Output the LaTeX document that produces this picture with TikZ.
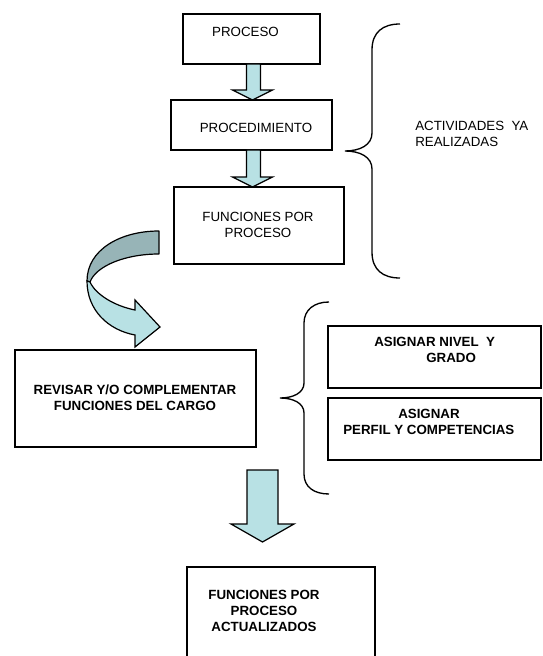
\documentclass[tikz,border=0pt]{standalone}
\usepackage{fontspec}
\setmainfont{Liberation Sans}
\usetikzlibrary{positioning,calc}

\definecolor{celeste}{RGB}{184,225,228}
\definecolor{celesteosc}{RGB}{151,180,183}

\begin{document}
\begin{tikzpicture}[x=0.75pt,y=-0.75pt,
  caja/.style={draw,line width=1.1pt,inner sep=0pt},
  texto/.style={font=\fontsize{10}{12}\selectfont,align=center,inner sep=0pt},
  negrita/.style={texto,font=\fontsize{10}{12}\selectfont\bfseries},
  bloque/.style={draw,line width=0.9pt,fill=celeste,line join=miter},
  llave/.style={line width=1pt}]
\useasboundingbox (0,0) rectangle (542,656);

% cajas de arriba
\node[caja,minimum width=102.75pt,minimum height=37.5pt] at (251.5,39) (proceso) {};
\node[texto] at (245.5,32) (procesoT) {PROCESO};
\node[caja,minimum width=120.75pt,minimum height=37.5pt] at (251.5,125) (procedimiento) {};
\node[texto] at (256,128) (procedimientoT) {PROCEDIMIENTO};
\node[caja,minimum width=127.5pt,minimum height=57.75pt] at (259,225.5) (funciones) {};
\node[texto] at (258,225) (funcionesT) {FUNCIONES POR\\PROCESO};
\node[texto,align=left,anchor=west] at (415,134) (actividades) {ACTIVIDADES\ \ YA\\REALIZADAS};

% flechas hacia abajo
\draw[bloque] (246.5,64) -- (260.5,64) -- (260.5,90) -- (272.5,90) -- (252.5,100) -- (232.5,90) -- (246.5,90) -- cycle;
\draw[bloque] (246.5,150) -- (260.5,150) -- (260.5,177) -- (272.5,177) -- (252.5,187) -- (232.5,177) -- (246.5,177) -- cycle;

% llave grande
\draw[llave] (400,24) .. controls (383,24) and (372,32) .. (372,50) -- (372,133)
  .. controls (372,145) and (360,151) .. (345,151)
  .. controls (360,151) and (372,157) .. (372,169) -- (372,252)
  .. controls (372,270) and (383,278) .. (400,278);

% flecha curva
\draw[line width=0.9pt,fill=celesteosc,line join=round] (159,231) .. controls (120,231) and (87,250) .. (87,281)
  -- (90,282) .. controls (96,266) and (125,254) .. (159,254) -- cycle;
\draw[bloque] (87,281) .. controls (87,310) and (108,330) .. (135,335) -- (135,347) -- (160,327)
  -- (135,300) -- (135,310) .. controls (115,306) and (96,295) .. (90,282) -- cycle;

% parte de abajo
\node[caja,minimum width=180.75pt,minimum height=72.75pt] at (135.5,398.5) (revisar) {};
\node[negrita] at (135,398) (revisarT) {REVISAR Y/O COMPLEMENTAR\\FUNCIONES DEL CARGO};
\node[caja,minimum width=159.75pt,minimum height=46.5pt] at (434.5,357) (nivel) {};
\node[negrita,align=left,anchor=west] at (374,350) (nivelT) {ASIGNAR NIVEL\ \ Y\\\hspace*{39pt}GRADO};
\node[caja,minimum width=159.75pt,minimum height=46.5pt] at (434.5,429) (perfil) {};
\node[negrita,align=left,anchor=west] at (343,421.5) (perfilT) {\hspace*{41.25pt}ASIGNAR\\PERFIL Y COMPETENCIAS};

% llave chica
\draw[llave] (329,302) .. controls (314,302) and (304,310) .. (304,323) -- (304,383)
  .. controls (304,393) and (293,398) .. (280,398)
  .. controls (293,398) and (304,403) .. (304,413) -- (304,474)
  .. controls (304,487) and (314,494) .. (329,494);

\draw[bloque] (247,470) -- (278,470) -- (278,524) -- (294,524) -- (262.5,542) -- (231,524) -- (247,524) -- cycle;

\node[caja,minimum width=141pt,minimum height=71.25pt] at (281,614.5) (actualizados) {};
\node[negrita] at (264,611) (actualizadosT) {FUNCIONES POR\\PROCESO\\ACTUALIZADOS};
\end{tikzpicture}
\end{document}
